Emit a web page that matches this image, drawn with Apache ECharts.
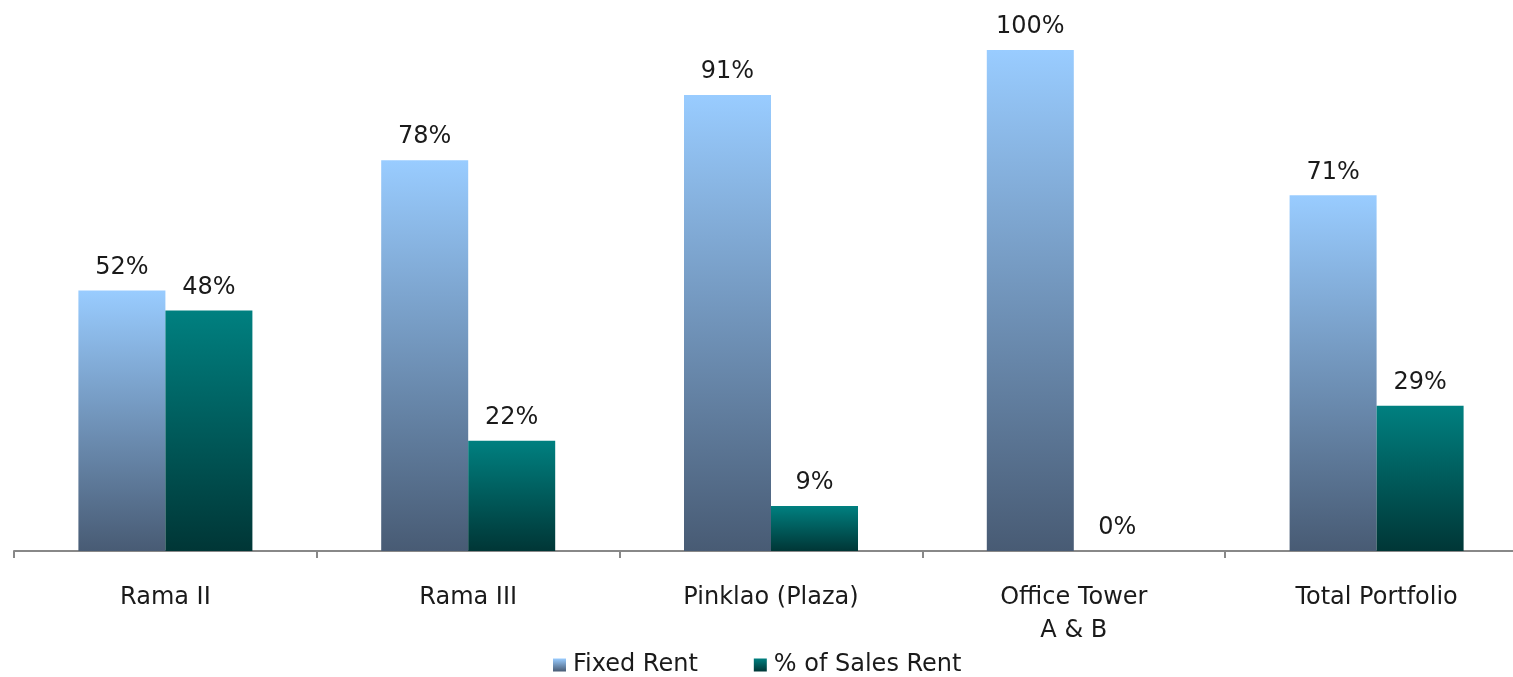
<!DOCTYPE html>
<html>
<head>
<meta charset="utf-8">
<script src="https://cdn.jsdelivr.net/npm/echarts@6/dist/echarts.min.js"></script>
<style>
	html, body { margin: 0; padding: 0; background: #fff; overflow: hidden; }
	#chart { width: 1513px; height: 677px; }
</style>
</head>
<body>
<div id="chart"></div>
<script>
var categories = ['Rama II', 'Rama III', 'Pinklao (Plaza)', 'Office Tower\nA & B', 'Total Portfolio'];
var fixedRent = [52, 78, 91, 100, 71];
var salesRent = [48, 22, 9, 0, 29];
var seriesNames = ['Fixed Rent', '% of Sales Rent'];

var fontName = '"DejaVu Sans", sans-serif';

function grad(top, bottom) {
	return new echarts.graphic.LinearGradient(0, 0, 0, 1, [{
		offset: 0,
		color: top
	}, {
		offset: 1,
		color: bottom
	}]);
}

var labelStyle = {
	show: true,
	position: 'top',
	distance: 11,
	color: '#1a1a1a',
	fontSize: 24,
	fontFamily: fontName,
	formatter: '{c}%'
};

var ec = echarts.init(document.getElementById('chart'));
ec.setOption({
	animation: false,
	grid: {
		left: 14,
		width: 1514,
		top: 50,
		height: 501,
		outerBoundsMode: 'none',
		containLabel: false
	},
	legend: {
		top: 648,
		left: 548,
		itemWidth: 13,
		itemHeight: 13,
		itemGap: 56,
		itemStyle: {
			borderWidth: 0
		},
		icon: 'rect',
		textStyle: {
			color: '#1a1a1a',
			fontSize: 24,
			fontFamily: fontName,
			padding: [0, 0, 0, 2]
		},
		data: seriesNames
	},
	xAxis: {
		type: 'category',
		data: categories,
		axisLine: {
			lineStyle: {
				color: '#888',
				width: 2
			}
		},
		axisTick: {
			show: true,
			length: 7,
			lineStyle: {
				color: '#888',
				width: 2
			}
		},
		axisLabel: {
			margin: 30,
			color: '#1a1a1a',
			fontSize: 24,
			lineHeight: 33,
			fontFamily: fontName
		}
	},
	yAxis: {
		type: 'value',
		min: 0,
		max: 100,
		show: false,
		splitLine: {
			show: false
		}
	},
	series: [{
		name: seriesNames[0],
		type: 'bar',
		barWidth: 87,
		barGap: '0%',
		itemStyle: {
			color: grad('#99ccff', '#485b74')
		},
		label: labelStyle,
		data: fixedRent
	}, {
		name: seriesNames[1],
		type: 'bar',
		barWidth: 87,
		barGap: '0%',
		itemStyle: {
			color: grad('#008080', '#003636')
		},
		label: labelStyle,
		data: salesRent
	}]
});
</script>
</body>
</html>
